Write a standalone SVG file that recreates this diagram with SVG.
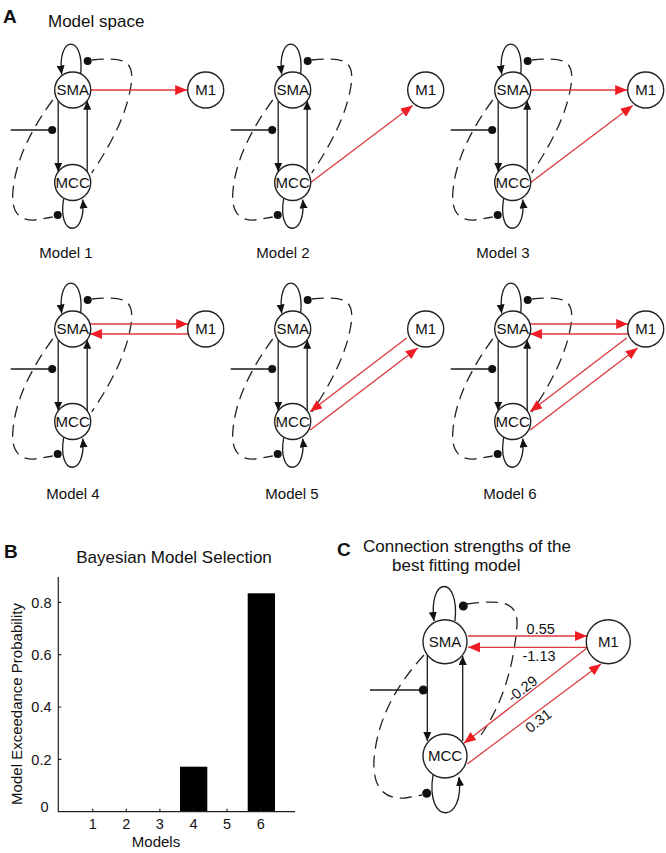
<svg xmlns="http://www.w3.org/2000/svg" xmlns:xlink="http://www.w3.org/1999/xlink" width="666" height="853" viewBox="0 0 666 853">
<style>
text{font-family:"Liberation Sans",Arial,Helvetica,sans-serif;fill:#111}
.ttl{font-size:17px}
.pl{font-size:19px;font-weight:bold}
.ml{font-size:15px;text-anchor:middle}
.nt{font-size:15px;text-anchor:middle}
.el{font-size:14.5px;text-anchor:middle}
.tk{font-size:14.5px}
.node circle{fill:#fff;stroke:#222;stroke-width:1.4}
.blk{stroke:#1a1a1a;stroke-width:1.3;fill:none}
.dash{stroke:#222;stroke-width:1.3;fill:none;stroke-dasharray:12 7}
.red{stroke:#dc3a3f;stroke-width:1.3;fill:none}
.dot{fill:#111}
.ax{stroke:#222;stroke-width:1.2;fill:none}
.bar{fill:#000}
</style>
<defs>
<marker id="ab" viewBox="0 0 9 8" refX="9" refY="4" markerWidth="9" markerHeight="8" markerUnits="userSpaceOnUse" orient="auto"><path d="M0,0 L9,4 L0,8 z" fill="#111"/></marker>
<marker id="ar" viewBox="0 0 12 10" refX="12" refY="5" markerWidth="12" markerHeight="10" markerUnits="userSpaceOnUse" orient="auto"><path d="M0,0 L12,5 L0,10 z" fill="#ee1c24"/></marker>
<g id="backbone">
<path class="blk" d="M-14.5 10.7 V81.8" marker-end="url(#ab)"/>
<path class="blk" d="M14.5 81.8 V10.7" marker-end="url(#ab)"/>
<path class="blk" d="M8 -16 C12 -56 -16 -56 -11 -15.5" marker-end="url(#ab)"/>
<path class="blk" d="M-9 108.5 C-16 148 14 148 10 109.5" marker-end="url(#ab)"/>
<path class="blk" d="M-62 40 H-21"/>
<circle class="dot" cx="-20.5" cy="40" r="4"/>
<circle class="dot" cx="15" cy="-29" r="4"/>
<circle class="dot" cx="-15" cy="125" r="4"/>
<path class="dash" d="M19 -30 C50 -33 60 -30 59 -10 Q55 30 19 83"/>
<path class="dash" d="M-20 10 Q-58 62 -60 105 Q-61 131 -38 130 L-20 127"/>
</g>
</defs>
<rect width="666" height="853" fill="#fff"/>

<!-- Panel A -->
<text class="pl" x="3" y="23">A</text>
<text class="ttl" x="48" y="27">Model space</text>

<g id="model1" transform="translate(72.7,90)">
<g id="model1-connectors"><use xlink:href="#backbone" href="#backbone"/>
<path class="red" d="M18 0 H114.5" marker-end="url(#ar)"/></g>
<g id="model1-SMA" class="node"><circle cx="0" cy="0" r="18"/><text class="nt" x="0" y="5.3">SMA</text></g>
<g id="model1-MCC" class="node"><circle cx="0" cy="92.5" r="18"/><text class="nt" x="0" y="97.8">MCC</text></g>
<g id="model1-M1" class="node"><circle cx="133" cy="0" r="18"/><text class="nt" x="133" y="5.3">M1</text></g>
</g>

<g id="model2" transform="translate(292.7,90)">
<g id="model2-connectors"><use xlink:href="#backbone" href="#backbone"/>
<path class="red" d="M18 92.5 L120 15.5" marker-end="url(#ar)"/></g>
<g id="model2-SMA" class="node"><circle cx="0" cy="0" r="18"/><text class="nt" x="0" y="5.3">SMA</text></g>
<g id="model2-MCC" class="node"><circle cx="0" cy="92.5" r="18"/><text class="nt" x="0" y="97.8">MCC</text></g>
<g id="model2-M1" class="node"><circle cx="133" cy="0" r="18"/><text class="nt" x="133" y="5.3">M1</text></g>
</g>

<g id="model3" transform="translate(512.7,90)">
<g id="model3-connectors"><use xlink:href="#backbone" href="#backbone"/>
<path class="red" d="M18 0 H114.5" marker-end="url(#ar)"/>
<path class="red" d="M18 92.5 L120 15.5" marker-end="url(#ar)"/></g>
<g id="model3-SMA" class="node"><circle cx="0" cy="0" r="18"/><text class="nt" x="0" y="5.3">SMA</text></g>
<g id="model3-MCC" class="node"><circle cx="0" cy="92.5" r="18"/><text class="nt" x="0" y="97.8">MCC</text></g>
<g id="model3-M1" class="node"><circle cx="133" cy="0" r="18"/><text class="nt" x="133" y="5.3">M1</text></g>
</g>

<g id="model4" transform="translate(72.7,329)">
<g id="model4-connectors"><use xlink:href="#backbone" href="#backbone"/>
<path class="red" d="M17.3 -5 H115.5" marker-end="url(#ar)"/>
<path class="red" d="M115.5 5 H17.3" marker-end="url(#ar)"/></g>
<g id="model4-SMA" class="node"><circle cx="0" cy="0" r="18"/><text class="nt" x="0" y="5.3">SMA</text></g>
<g id="model4-MCC" class="node"><circle cx="0" cy="92.5" r="18"/><text class="nt" x="0" y="97.8">MCC</text></g>
<g id="model4-M1" class="node"><circle cx="133" cy="0" r="18"/><text class="nt" x="133" y="5.3">M1</text></g>
</g>

<g id="model5" transform="translate(292.7,329)">
<g id="model5-connectors"><use xlink:href="#backbone" href="#backbone"/>
<path class="red" d="M114 9 L17.5 82.5" marker-end="url(#ar)"/>
<path class="red" d="M17.5 101 L125 19" marker-end="url(#ar)"/></g>
<g id="model5-SMA" class="node"><circle cx="0" cy="0" r="18"/><text class="nt" x="0" y="5.3">SMA</text></g>
<g id="model5-MCC" class="node"><circle cx="0" cy="92.5" r="18"/><text class="nt" x="0" y="97.8">MCC</text></g>
<g id="model5-M1" class="node"><circle cx="133" cy="0" r="18"/><text class="nt" x="133" y="5.3">M1</text></g>
</g>

<g id="model6" transform="translate(512.7,329)">
<g id="model6-connectors"><use xlink:href="#backbone" href="#backbone"/>
<path class="red" d="M17.3 -5 H115.5" marker-end="url(#ar)"/>
<path class="red" d="M115.5 5 H17.3" marker-end="url(#ar)"/>
<path class="red" d="M114 9 L17.5 82.5" marker-end="url(#ar)"/>
<path class="red" d="M17.5 101 L125 19" marker-end="url(#ar)"/></g>
<g id="model6-SMA" class="node"><circle cx="0" cy="0" r="18"/><text class="nt" x="0" y="5.3">SMA</text></g>
<g id="model6-MCC" class="node"><circle cx="0" cy="92.5" r="18"/><text class="nt" x="0" y="97.8">MCC</text></g>
<g id="model6-M1" class="node"><circle cx="133" cy="0" r="18"/><text class="nt" x="133" y="5.3">M1</text></g>
</g>

<text class="ml" x="66" y="257.5">Model 1</text>
<text class="ml" x="283" y="257.5">Model 2</text>
<text class="ml" x="503" y="257.5">Model 3</text>
<text class="ml" x="73" y="498.5">Model 4</text>
<text class="ml" x="292" y="498.5">Model 5</text>
<text class="ml" x="510" y="498.5">Model 6</text>

<!-- Panel B -->
<text class="pl" x="4" y="558">B</text>
<text class="ttl" x="174" y="563" text-anchor="middle">Bayesian Model Selection</text>
<g id="chart">
<rect class="bar" x="180" y="766.7" width="27.3" height="45"/>
<rect class="bar" x="247.7" y="593.3" width="27.3" height="218.4"/>
<path class="ax" d="M58.3 577 V811.7 H295"/>
<path class="ax" d="M58.3 759.3 h3 M58.3 707 h3 M58.3 654.7 h3 M58.3 602.3 h3 M92.7 811.7 v-3 M126.3 811.7 v-3 M159.9 811.7 v-3 M193.5 811.7 v-3 M227.1 811.7 v-3 M260.7 811.7 v-3"/>
<g class="tk" text-anchor="end">
<text x="48.5" y="812">0</text>
<text x="51.5" y="764.5">0.2</text>
<text x="51.5" y="712.2">0.4</text>
<text x="51.5" y="660">0.6</text>
<text x="51.5" y="607.5">0.8</text>
</g>
<g class="tk" text-anchor="middle">
<text x="92.7" y="829">1</text>
<text x="126.3" y="829">2</text>
<text x="159.9" y="829">3</text>
<text x="193.5" y="829">4</text>
<text x="227.1" y="829">5</text>
<text x="260.7" y="829">6</text>
</g>
<text x="156" y="847" font-size="15" text-anchor="middle">Models</text>
<text transform="translate(22,704) rotate(-90)" font-size="15" text-anchor="middle">Model Exceedance Probability</text>
</g>

<!-- Panel C -->
<text class="pl" x="337" y="556">C</text>
<text class="ttl" x="363" y="552">Connection strengths of the</text>
<text class="ttl" x="392" y="571">best fitting model</text>

<g id="panelC">
<g id="C-connectors">
<path class="blk" d="M427.3 654.8 V741" marker-end="url(#ab)"/>
<path class="blk" d="M462.7 741 V656" marker-end="url(#ab)"/>
<path class="blk" d="M455 621 C460 575 428 575 434 621" marker-end="url(#ab)"/>
<path class="blk" d="M433 775 C425 825 465 825 459 777" marker-end="url(#ab)"/>
<path class="blk" d="M370 690 H422"/>
<circle class="dot" cx="423.3" cy="690" r="4.5"/>
<circle class="dot" cx="463.3" cy="606" r="4.5"/>
<circle class="dot" cx="426.7" cy="793.3" r="4.5"/>
<path class="dash" d="M467 604 C500 600 518 600 517 625 Q512 690 481 735"/>
<path class="dash" d="M424 655 Q378 705 374 760 Q372 800 405 798 L422 795"/>
<path class="red" d="M468 636 H587" marker-end="url(#ar)"/>
<path class="red" d="M587 647.3 H468" marker-end="url(#ar)"/>
<path class="red" d="M586.7 648.3 L464 743.3" marker-end="url(#ar)"/>
<path class="red" d="M467.3 764 L601 664" marker-end="url(#ar)"/>
<text class="el" x="540.7" y="633.5">0.55</text>
<text class="el" x="539" y="660.5">-1.13</text>
<text class="el" transform="translate(522.5,689) rotate(-37.7)" x="0" y="5">-0.29</text>
<text class="el" transform="translate(538.3,720.8) rotate(-37.7)" x="0" y="5">0.31</text>
</g>
<g id="C-SMA" class="node"><circle cx="445" cy="641.7" r="22"/><text class="nt" x="445" y="647">SMA</text></g>
<g id="C-MCC" class="node"><circle cx="445" cy="756" r="22"/><text class="nt" x="445" y="761.3">MCC</text></g>
<g id="C-M1" class="node"><circle cx="608.3" cy="641.7" r="22"/><text class="nt" x="608.3" y="647">M1</text></g>
</g>
</svg>
